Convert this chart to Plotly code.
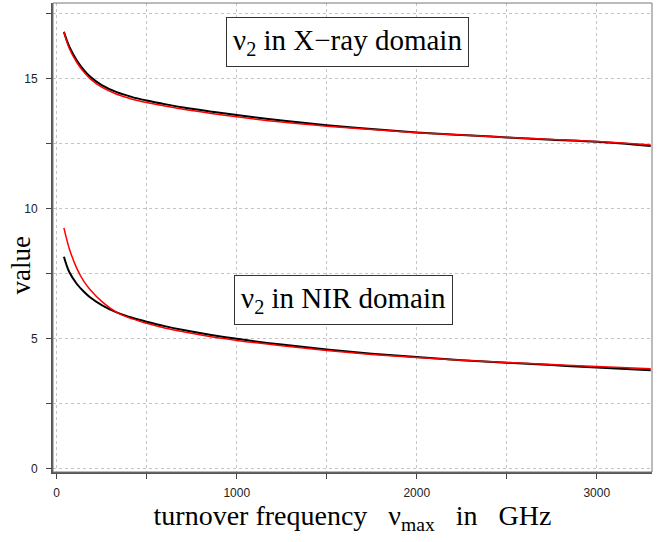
import plotly.graph_objects as go

# frequency grid (GHz)
freq = [40, 70, 111, 150, 185, 250, 333, 420, 500, 600, 704, 850, 1000,
        1250, 1500, 1750, 2000, 2250, 2500, 2750, 3000, 3300]

xray_black = [16.79, 16.22, 15.70, 15.33, 15.07, 14.74, 14.47, 14.28, 14.15, 14.01,
              13.88, 13.73, 13.59, 13.38, 13.20, 13.05, 12.92, 12.82, 12.73, 12.64,
              12.56, 12.40]
xray_red = [16.79, 16.15, 15.62, 15.25, 14.99, 14.66, 14.39, 14.20, 14.07, 13.94,
            13.81, 13.66, 13.52, 13.32, 13.16, 13.03, 12.91, 12.82, 12.73, 12.65,
            12.57, 12.44]
nir_black = [8.14, 7.55, 7.10, 6.80, 6.58, 6.28, 6.00, 5.79, 5.64, 5.47, 5.32, 5.14,
             4.98, 4.76, 4.57, 4.41, 4.28, 4.16, 4.06, 3.97, 3.88, 3.77]
nir_red = [9.25, 8.45, 7.70, 7.20, 6.88, 6.42, 6.00, 5.75, 5.58, 5.40, 5.25, 5.07,
           4.92, 4.71, 4.53, 4.38, 4.26, 4.16, 4.07, 3.99, 3.92, 3.83]

x_major = [0, 1000, 2000, 3000]
x_minor = [500, 1500, 2500]
y_major = [0, 5, 10, 15]
y_minor = [2.5, 7.5, 12.5, 17.5]

fig = go.Figure()
for ys, col, w in [(xray_black, "#000000", 2), (nir_black, "#000000", 2),
                   (xray_red, "#ff0000", 1.5), (nir_red, "#ff0000", 1.5)]:
    fig.add_trace(go.Scatter(x=freq, y=ys, mode="lines",
                             line=dict(color=col, width=w, shape="spline", smoothing=1.0),
                             showlegend=False, hoverinfo="skip"))

tickfont = dict(family="Liberation Sans, Arial, sans-serif", size=12, color="#222")
serif_name = "Liberation Serif, Times New Roman, serif"
sp = "\u00a0\u00a0\u00a0"
grid = dict(showgrid=True, gridcolor="#c4c4c4", griddash="dot", gridwidth=1)

fig.update_layout(
    width=670, height=542,
    margin=dict(l=53, r=18, t=3, b=70),
    paper_bgcolor="white", plot_bgcolor="white",
    xaxis=dict(range=[-20.6, 3307], tickvals=x_major,
               ticktext=[str(v) for v in x_major],
               ticks="outside", ticklen=5, tickwidth=1, tickcolor="#444",
               minor=dict(tickvals=x_minor, ticks="outside", ticklen=5, tickwidth=1,
                          tickcolor="#444", **grid),
               **grid,
               showline=True, linecolor="#555", linewidth=2,
               zeroline=False, tickfont=tickfont, ticklabelstandoff=4,
               title=dict(text="turnover frequency" + sp + "ν<sub>max</sub>" + sp + "in" + sp + "GHz",
                          font=dict(family=serif_name, size=28, color="#000"), standoff=6)),
    yaxis=dict(range=[-0.142, 17.9], tickvals=y_major,
               ticktext=[str(v) for v in y_major],
               ticks="outside", ticklen=5, tickwidth=1, tickcolor="#444",
               minor=dict(tickvals=y_minor, ticks="outside", ticklen=5, tickwidth=1,
                          tickcolor="#444", **grid),
               **grid,
               showline=True, linecolor="#555", linewidth=2,
               zeroline=False, tickfont=tickfont, ticklabelstandoff=6),
)

# y-axis title placed as in the reference (below the axis centre)
fig.add_annotation(x=-0.053, y=0.441, xref="paper", yref="paper", text="value",
                   textangle=-90, showarrow=False, xanchor="center", yanchor="middle",
                   font=dict(family=serif_name, size=27, color="#000"))

# thin frame on top and right
fig.add_shape(type="rect", xref="paper", yref="paper", x0=0, y0=0, x1=1, y1=1,
              line=dict(color="#777", width=1), layer="above")

serif = dict(family=serif_name, size=29, color="#000")
fig.add_annotation(x=1615, y=16.4, xref="x", yref="y",
                   text="ν<sub>2</sub> in X−ray domain", showarrow=False,
                   font=serif, bgcolor="white", bordercolor="#333", borderwidth=1,
                   borderpad=6)
fig.add_annotation(x=1593, y=6.47, xref="x", yref="y",
                   text="ν<sub>2</sub> in NIR domain", showarrow=False,
                   font=serif, bgcolor="white", bordercolor="#333", borderwidth=1,
                   borderpad=6)

fig.write_html("out.html")
